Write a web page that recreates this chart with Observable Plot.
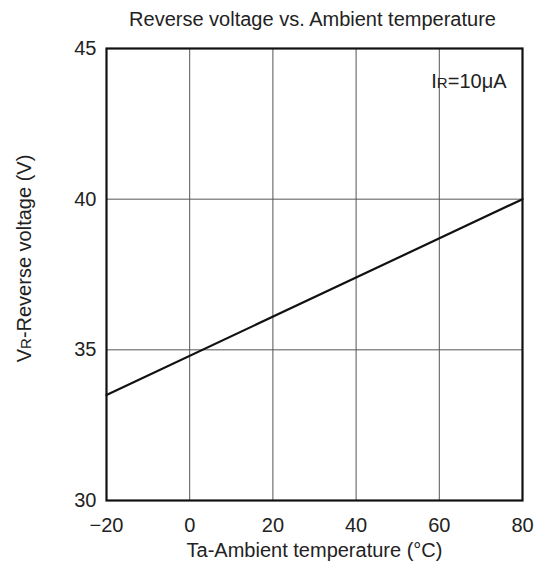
<!DOCTYPE html>
<html><head>
<meta charset="utf-8">
<script src="https://cdn.jsdelivr.net/npm/d3@7"></script>
<script src="https://cdn.jsdelivr.net/npm/@observablehq/plot@0.6"></script>
<style>body{margin:0;background:#fff}</style>
</head><body><div id="chart"></div>
<script>
const temperatures = [-20, 80];
const voltages = [33.5, 40.0];
const xTicks = [-20, 0, 20, 40, 60, 80];
const yTicks = [30, 35, 40, 45];
const data = temperatures.map((t, i) => ({t, v: voltages[i]}));

const chart = Plot.plot({
  width: 542, height: 566,
  marginLeft: 106, marginRight: 20, marginTop: 48, marginBottom: 66,
  style: {fontFamily: "'Liberation Sans', Arial, sans-serif", fontSize: "20px", color: "#222", background: "#fff"},
  x: {domain: [-20, 80]},
  y: {domain: [30, 45]},
  marks: [
    Plot.gridX(xTicks.slice(1, -1), {stroke: "#555", strokeOpacity: 1, strokeWidth: 1}),
    Plot.gridY(yTicks.slice(1, -1), {stroke: "#555", strokeOpacity: 1, strokeWidth: 1}),
    Plot.line(data, {x: "t", y: "v", stroke: "#111", strokeWidth: 2.2}),
    Plot.frame({stroke: "#111", strokeWidth: 2.2}),
    Plot.axisX(xTicks, {tickSize: 0, tickPadding: 17, fontSize: 20, label: null}),
    Plot.axisY(yTicks, {tickSize: 0, tickPadding: 10, fontSize: 20, label: null}),
    Plot.text(["Reverse voltage vs. Ambient temperature"], {frameAnchor: "top", lineAnchor: "middle", dx: -2, dy: -29, fontSize: 20, fill: "#222"}),
    Plot.text(["Ta-Ambient temperature (°C)"], {frameAnchor: "bottom", lineAnchor: "middle", dy: 50, fontSize: 20, fill: "#222"}),
    Plot.text(["VR-Reverse voltage (V)"], {frameAnchor: "left", textAnchor: "middle", lineAnchor: "middle", dx: -82, dy: -16, rotate: -90, fontSize: 20, fill: "#222"}),
    Plot.text(["IR=10μA"], {frameAnchor: "top-right", lineAnchor: "middle", dx: -16, dy: 33, textAnchor: "end", fontSize: 20, fill: "#222"})
  ]
});
document.getElementById("chart").appendChild(chart);

// subscript-style small "R"
d3.select(chart).selectAll("text").each(function() {
  const t = this.textContent;
  const m = /^([VI])R(.*)$/.exec(t);
  if (m) {
    const sel = d3.select(this);
    sel.text(null);
    sel.append("tspan").text(m[1]);
    sel.append("tspan").attr("font-size", 15).text("R");
    sel.append("tspan").text(m[2]);
  }
});
</script>
</body></html>
